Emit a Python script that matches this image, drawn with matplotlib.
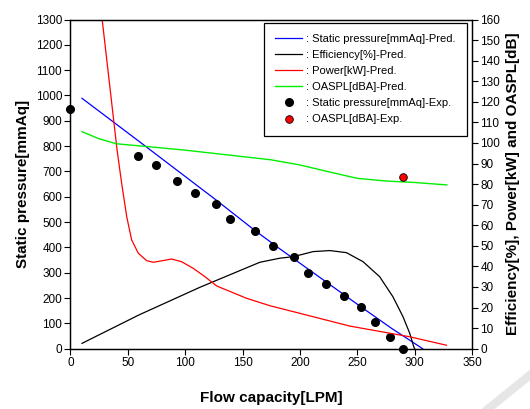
import matplotlib.pyplot as plt
from matplotlib.lines import Line2D

plt.rcParams['font.family'] = ['Liberation Sans', 'DejaVu Sans']

# dados

# pressao estatica experimental [mmAq]
vazao_exp = [0, 58.5, 74.2, 92.8, 108.2, 126.7, 138.9, 160.7, 176.1, 194.4,
             207.2, 222.6, 238, 253.3, 265.8, 278.3, 289.6]
pressao_exp = [945, 761, 727, 661, 616, 570, 511, 466, 407, 361,
               300, 255, 209, 166, 105, 47, 0]

# OASPL experimental [dBA]
vazao_oaspl_exp = [289.9]
oaspl_exp = [83.5]

# pressao estatica prevista
vazao_pressao = [10, 60, 127, 161, 182, 253, 280, 307]
pressao_pred = [989, 818, 587, 466, 396, 166, 80, 0]

# eficiencia prevista [%]
vazao_efic = [10, 60, 113, 165, 182.5, 194, 211.5, 226, 240.5, 255, 269.5, 281,
              289.8, 295.7, 299.2, 300]
eficiencia = [2.6, 16.5, 29.9, 42, 44, 44.7, 47.2, 47.7, 46.7, 42.3, 35, 25.3,
              15.6, 7.5, 1, 0]

# potencia prevista [kW]
vazao_pot = [27, 40.6, 44.6, 49, 53.3, 59.1, 66.4, 72.1, 79.4, 88.1, 96.8, 106.9,
             117.2, 127.4, 153.5, 173.8, 199.9, 243.5, 295.7, 327.7]
potencia = [163, 96.6, 80.4, 64.2, 52.9, 46.4, 42.8, 42, 42.7, 43.6, 42.3, 39.1,
            35, 30.5, 24.5, 20.9, 17.2, 11, 5.8, 1.7]

# OASPL previsto [dBA]
vazao_oaspl = [10, 25, 40, 60, 100, 140, 175, 200, 225, 250, 275, 300, 328]
oaspl_pred = [105.5, 102, 99.6, 98.6, 96.5, 94, 91.8, 89.3, 86, 82.8, 81.5, 80.8, 79.6]

fig = plt.figure(figsize=(5.3, 4.09), dpi=100)
ax = fig.add_axes([0.133, 0.1474, 0.7576, 0.8049])
ax2 = ax.twinx()

l1, = ax.plot(vazao_pressao, pressao_pred, color='blue', lw=0.9)
l5, = ax.plot(vazao_exp, pressao_exp, 'o', color='black', ms=5.5, clip_on=False, zorder=5)

l2, = ax2.plot(vazao_efic, eficiencia, color='black', lw=0.9)
l3, = ax2.plot(vazao_pot, potencia, color='red', lw=0.9)
l4, = ax2.plot(vazao_oaspl, oaspl_pred, color='#00ee00', lw=1.0)
l6, = ax2.plot(vazao_oaspl_exp, oaspl_exp, 'o', color='red', mec='black', mew=0.6, ms=5.5)

ax.set_xlim(0, 350)
ax.set_ylim(0, 1300)
ax2.set_ylim(0, 160)
ax.set_xticks(range(0, 351, 50))
ax.set_yticks(range(0, 1301, 100))
ax2.set_yticks(range(0, 161, 10))

for a in (ax, ax2):
    a.tick_params(labelsize=8.5, length=4, width=0.8, pad=2)
    for s in a.spines.values():
        s.set_linewidth(0.9)

ax.set_xlabel('Flow capacity[LPM]', fontsize=11, fontweight='bold', labelpad=16)
ax.set_ylabel('Static pressure[mmAq]', fontsize=11, fontweight='bold', labelpad=4)
ax2.set_ylabel('Efficiency[%], Power[kW] and OASPL[dB]', fontsize=11, fontweight='bold', labelpad=4)

leg = ax2.legend([l1, l2, l3, l4, l5, l6],
                 [': Static pressure[mmAq]-Pred.', ': Efficiency[%]-Pred.', ': Power[kW]-Pred.',
                  ': OASPL[dBA]-Pred.', ': Static pressure[mmAq]-Exp.', ': OASPL[dBA]-Exp.'],
                 loc='upper right', bbox_to_anchor=(0.9875, 0.99), fontsize=8,
                 frameon=True, fancybox=False, edgecolor='black', framealpha=1,
                 handlelength=2.4, handletextpad=0.4, labelspacing=0.55, borderpad=1.0,
                 borderaxespad=0)
leg.get_frame().set_linewidth(0.9)

# marca d'agua
fig.add_artist(Line2D([488 / 530, 1.0], [0, 34 / 409], color='#e6e6e6', lw=6,
                      transform=fig.transFigure))

plt.savefig('out.png')
